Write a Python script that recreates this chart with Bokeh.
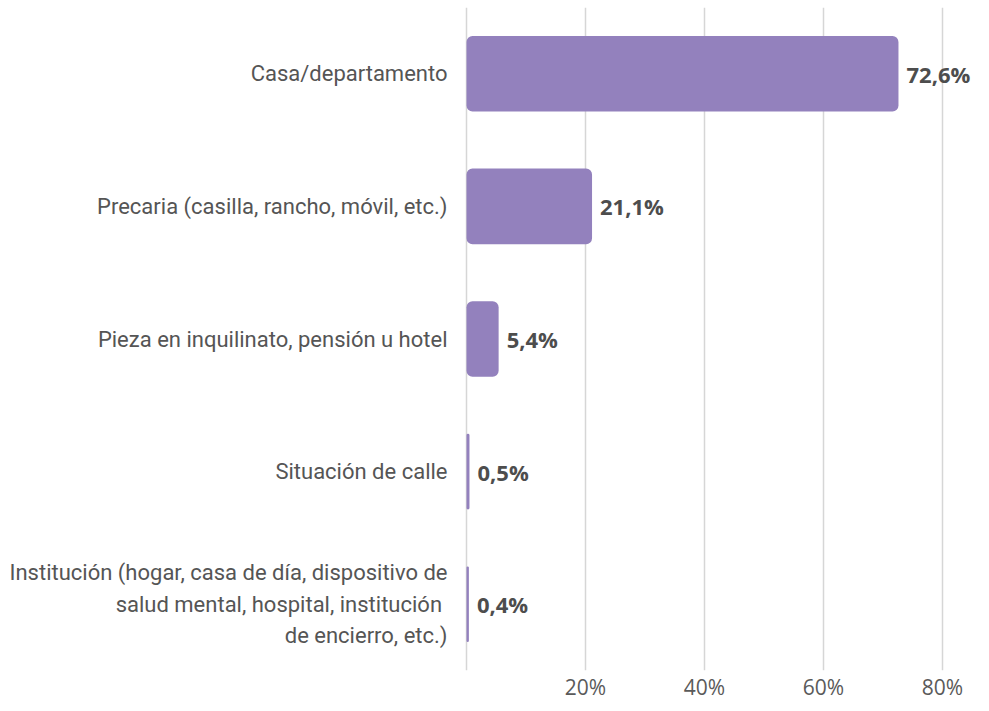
from bokeh.plotting import figure
from bokeh.models import FixedTicker, ColumnDataSource, FactorRange, Range1d
from bokeh.core.properties import value
from bokeh.embed import file_html
from bokeh.resources import INLINE

categories = [
    "Casa/departamento",
    "Precaria (casilla, rancho, móvil, etc.)",
    "Pieza en inquilinato, pensión u hotel",
    "Situación de calle",
    "Institución (hogar, casa de día, dispositivo de\nsalud mental, hospital, institución \nde encierro, etc.)",
]
values = [72.6, 21.1, 5.4, 0.5, 0.4]
value_labels = ["72,6%", "21,1%", "5,4%", "0,5%", "0,4%"]
grid_values = [0, 20, 40, 60, 80]
tick_values = [20, 40, 60, 80]
tick_labels = ["20%", "40%", "60%", "80%"]

W, H = 973, 703
PX_PER_UNIT = 5.95
ZERO_PX = 466.0

src = ColumnDataSource(dict(
    cat=categories,
    val=values,
    lab=value_labels,
    zero=[0] * len(categories),
))

p = figure(
    width=W, height=H,
    y_range=FactorRange(factors=categories[::-1], range_padding=0),
    x_range=Range1d(-ZERO_PX / PX_PER_UNIT, (W - ZERO_PX) / PX_PER_UNIT),
    output_backend="svg", toolbar_location=None,
    min_border_left=0, min_border_right=0, min_border_top=7, min_border_bottom=0,
)
p.outline_line_color = None
p.background_fill_color = "white"
p.border_fill_color = "white"

p.yaxis.visible = False
p.ygrid.grid_line_color = None
p.xgrid.ticker = FixedTicker(ticks=grid_values)
p.xgrid.grid_line_color = "#d6d6d6"
p.xgrid.grid_line_width = 1.5

xa = p.xaxis[0]
xa.ticker = FixedTicker(ticks=tick_values)
xa.major_label_overrides = {v: t for v, t in zip(tick_values, tick_labels)}
xa.axis_line_color = None
xa.major_tick_line_color = None
xa.minor_tick_line_color = None
xa.major_tick_out = 0
xa.major_tick_in = 0
xa.major_label_text_font = "Open Sans"
xa.major_label_text_font_size = "21px"
xa.major_label_text_color = "#5a5a5a"
xa.major_label_standoff = 2

p.hbar(y="cat", right="val", left=0, height=0.57, source=src,
       fill_color="#9381bd", line_color=None, border_radius=6)

p.text(x="val", y="cat", text="lab", source=src,
       x_offset=8, text_align="left", text_baseline="middle",
       text_font=value("Open Sans"), text_font_size="22px",
       text_font_style="bold", text_color="#4d4d4d")

p.text(x="zero", y="cat", text="cat", source=src,
       x_offset=-19, text_align="right", text_baseline="middle",
       text_font=value("Roboto"), text_font_size="22px",
       text_color="#555555", text_line_height=1.25)

open("out.html", "w").write(file_html(p, INLINE))
